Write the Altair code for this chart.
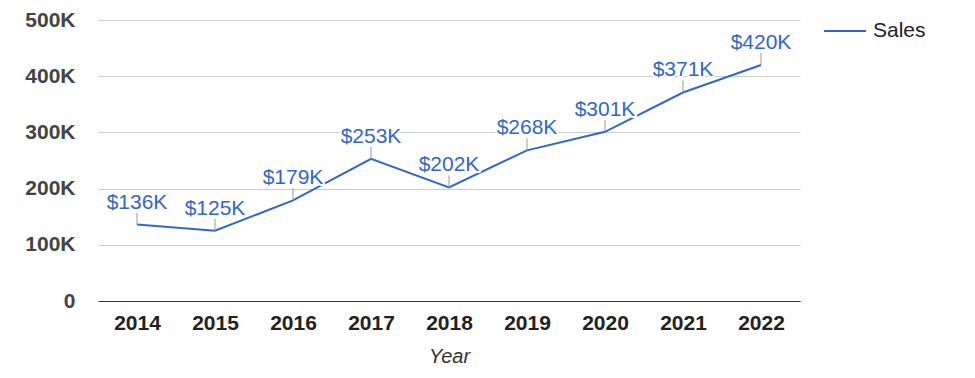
import altair as alt
import pandas as pd

years = ["2014", "2015", "2016", "2017", "2018", "2019", "2020", "2021", "2022"]
sales = [136000, 125000, 179000, 253000, 202000, 268000, 301000, 371000, 420000]
labels = ["$136K", "$125K", "$179K", "$253K", "$202K", "$268K", "$301K", "$371K", "$420K"]
series = "Sales"

df = pd.DataFrame({"Year": years, "Sales": sales, "label": labels, "series": [series] * len(years)})

FONT = "Liberation Sans"
BLUE = "#3366cc"

x_enc = alt.X(
    "Year:N",
    title="Year",
    scale=alt.Scale(type="point", padding=0.5),
    axis=alt.Axis(
        labelAngle=0,
        labelFont=FONT,
        labelFontSize=21,
        labelFontWeight="bold",
        labelColor="#222222",
        labelPadding=11,
        ticks=False,
        tickSize=0,
        domain=True,
        domainColor="#333333",
        domainWidth=1,
        grid=False,
        titleFont=FONT,
        titleFontSize=20,
        titleFontStyle="italic",
        titleFontWeight="normal",
        titleColor="#333333",
        titlePadding=13,
    ),
)

y_enc = alt.Y(
    "Sales:Q",
    scale=alt.Scale(domain=[0, 500000], nice=False),
    axis=alt.Axis(
        title=None,
        values=list(range(0, 500001, 50000)),
        labelExpr="datum.value % 100000 === 0 ? (datum.value === 0 ? '0' : datum.value / 1000 + 'K') : ''",
        labelFont=FONT,
        labelFontSize=21,
        labelFontWeight="bold",
        labelColor="#444444",
        labelPadding=23,
        labelBaseline="middle",
        ticks=False,
        tickSize=0,
        domain=False,
        grid=True,
        gridColor={"condition": {"test": "datum.value % 100000 === 0", "value": "#cccccc"}, "value": "#ebebeb"},
        gridWidth=1,
    ),
)

base = alt.Chart(df)

line = base.mark_line(strokeWidth=2).encode(
    x=x_enc,
    y=y_enc,
    color=alt.Color(
        "series:N",
        scale=alt.Scale(range=[BLUE]),
        legend=alt.Legend(
            title=None,
            orient="none",
            legendX=725,
            legendY=-11,
            symbolType="stroke",
            symbolSize=1764,
            symbolStrokeWidth=2,
            labelFont=FONT,
            labelFontSize=21,
            labelColor="#222222",
            labelOffset=6,
            padding=0,
        ),
    ),
)

leader = base.mark_rule(color="#999999", strokeWidth=1, y2Offset=-12).encode(
    x="Year:N", y="Sales:Q", y2="Sales:Q"
)

halo = base.mark_text(
    font=FONT, fontSize=21, dy=-16, baseline="alphabetic", align="center",
    stroke="white", strokeWidth=4, fill="white", strokeJoin="round",
).encode(x="Year:N", y="Sales:Q", text="label:N")

text = base.mark_text(
    font=FONT, fontSize=21, dy=-16, baseline="alphabetic", align="center", color=BLUE,
).encode(x="Year:N", y="Sales:Q", text="label:N")

chart = (
    alt.layer(line, leader, halo, text)
    .properties(
        width=702,
        height=281,
        background="white",
        autosize=alt.AutoSizeParams(type="none"),
        padding={"left": 98, "top": 20, "right": 175, "bottom": 77},
    )
    .configure_view(strokeWidth=0, stroke="transparent")
)

chart.save("out.html", embed_options={"renderer": "svg", "actions": False})
